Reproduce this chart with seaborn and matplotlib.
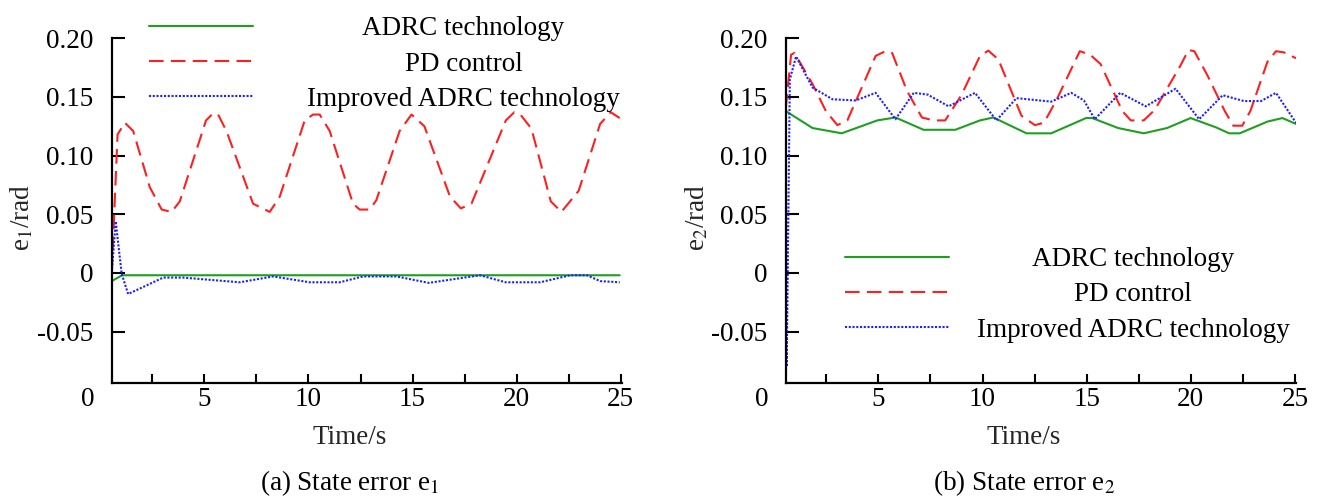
import numpy as np
import pandas as pd
import matplotlib.pyplot as plt
import seaborn as sns
from matplotlib.lines import Line2D

# estilo base
sns.set_style('ticks')
plt.rcParams['font.family'] = ['Liberation Serif', 'DejaVu Serif']
plt.rcParams['mathtext.fontset'] = 'stix'
plt.rcParams['axes.edgecolor'] = 'black'
plt.rcParams['xtick.color'] = 'black'
plt.rcParams['ytick.color'] = 'black'
plt.rcParams['text.color'] = 'black'

metodos = ['ADRC technology', 'PD control', 'Improved ADRC technology']
cores = {'ADRC technology': '#1f9f1f', 'PD control': '#ff1f1f',
         'Improved ADRC technology': '#1f1fff'}
tracos = {'ADRC technology': '', 'PD control': (7, 3.5),
          'Improved ADRC technology': (1, 0.8)}

# (a) erro de estado e1
t_adrc_e1 = [0.55, 1.05, 24.95]
v_adrc_e1 = [-0.007, -0.002, -0.002]
t_pd_e1 = [0.55, 0.83, 1.18, 1.58, 2.38, 2.95, 3.43, 3.82, 5.08, 5.42, 5.66, 6.06, 7.34,
           8.14, 8.62, 9.82, 10.22, 10.54, 11.02, 12.14, 12.46, 12.94, 13.26, 14.38, 14.95,
           15.57, 16.8, 17.32, 17.83, 19.48, 19.89, 20.18, 20.71, 21.64, 22.15, 22.98,
           24.01, 24.52, 24.95]
v_pd_e1 = [0.0, 0.118, 0.128, 0.121, 0.073, 0.054, 0.052, 0.061, 0.130, 0.136, 0.135, 0.121,
           0.059, 0.052, 0.065, 0.130, 0.135, 0.135, 0.121, 0.059, 0.054, 0.054, 0.062, 0.121,
           0.135, 0.125, 0.065, 0.055, 0.059, 0.130, 0.137, 0.135, 0.123, 0.061, 0.052, 0.070,
           0.127, 0.137, 0.132]
t_imp_e1 = [0.55, 0.74, 1.03, 1.34, 3.02, 3.98, 6.7, 8.3, 10.06, 11.5, 12.62, 14.22, 15.78,
            18.24, 19.47, 21.13, 22.57, 23.38, 24.01, 24.95]
v_imp_e1 = [0.0, 0.044, -0.001, -0.018, -0.004, -0.004, -0.008, -0.003, -0.008, -0.008,
            -0.003, -0.003, -0.0085, -0.002, -0.008, -0.008, -0.002, -0.002, -0.007, -0.008]

# (b) erro de estado e2
t_adrc_e2 = [0.55, 1.84, 3.24, 4.95, 5.82, 7.17, 8.69, 9.88, 10.52, 12.11, 13.3, 14.97,
             15.27, 16.51, 17.74, 18.86, 19.99, 21.22, 21.84, 22.35, 23.68, 24.4, 25.05]
v_adrc_e2 = [0.138, 0.1235, 0.119, 0.130, 0.1325, 0.122, 0.122, 0.130, 0.1325, 0.119, 0.119,
             0.132, 0.132, 0.1235, 0.119, 0.1235, 0.132, 0.124, 0.119, 0.119, 0.129, 0.132,
             0.127]
t_pd_e2 = [0.55, 0.81, 0.97, 1.84, 2.48, 3.03, 3.51, 4.87, 5.34, 5.66, 6.38, 7.09, 7.65, 8.21,
           9.0, 9.88, 10.28, 10.76, 11.87, 12.51, 12.95, 13.54, 14.67, 15.17, 15.67, 16.71,
           17.12, 17.74, 18.27, 19.48, 19.89, 20.17, 20.81, 21.63, 22.04, 22.47, 22.86,
           23.68, 24.09, 24.47, 25.05]
v_pd_e2 = [0.14, 0.186, 0.1875, 0.161, 0.138, 0.126, 0.130, 0.185, 0.189, 0.1875, 0.155,
           0.1325, 0.130, 0.130, 0.152, 0.185, 0.1895, 0.182, 0.134, 0.126, 0.128, 0.147,
           0.189, 0.186, 0.178, 0.138, 0.130, 0.130, 0.139, 0.176, 0.190, 0.189, 0.168,
           0.138, 0.1255, 0.1255, 0.138, 0.180, 0.189, 0.188, 0.183]
t_imp_e2 = [0.55, 0.6, 0.75, 1.05, 1.84, 2.8, 3.91, 4.87, 5.82, 6.7, 7.37, 8.37, 9.64, 10.67,
            11.63, 13.3, 14.26, 14.87, 15.39, 16.61, 17.84, 19.27, 20.4, 21.53, 22.55, 23.37,
            24.09, 25.05]
v_imp_e2 = [0.14, -0.08, 0.165, 0.1845, 0.158, 0.148, 0.147, 0.1535, 0.131, 0.1535, 0.152,
            0.142, 0.1535, 0.130, 0.149, 0.146, 0.1535, 0.147, 0.131, 0.1535, 0.142, 0.157,
            0.131, 0.1515, 0.1465, 0.1465, 0.1535, 0.128]

yticks = [-0.05, 0, 0.05, 0.10, 0.15, 0.20]
yticklabels = ['-0.05', '0', '0.05', '0.10', '0.15', '0.20']
xticks = [2.5, 5, 7.5, 10, 12.5, 15, 17.5, 20, 22.5, 25]
xticklabels = ['', '5', '', '10', '', '15', '', '20', '', '25']


def monta_df(series):
    partes = []
    for nome, t, v in series:
        partes.append(pd.DataFrame({'time': t, 'error': v, 'method': nome}))
    return pd.concat(partes, ignore_index=True)


df_e1 = monta_df([(metodos[0], t_adrc_e1, v_adrc_e1), (metodos[1], t_pd_e1, v_pd_e1),
                  (metodos[2], t_imp_e1, v_imp_e1)])
df_e2 = monta_df([(metodos[0], t_adrc_e2, v_adrc_e2), (metodos[1], t_pd_e2, v_pd_e2),
                  (metodos[2], t_imp_e2, v_imp_e2)])

fig = plt.figure(figsize=(13.38, 5), dpi=100)
ax1 = fig.add_axes([0.0835, 0.2346, 0.3812, 0.6888])
ax2 = fig.add_axes([0.5872, 0.2346, 0.3814, 0.6888])

FS = 19.5
LW = 1.5
paineis = [
    (ax1, df_e1, r'e$_1$/rad', '(a) State error e$_1$', -0.1765, 0.073, 0.925, 0.3465),
    (ax2, df_e2, r'e$_2$/rad', '(b) State error e$_2$', -0.1744, 0.116, 0.255, 0.8468),
]

legendas = []
for ax, df, ylab, legenda_fig, ylab_x, leg_x, leg_y, txt_x in paineis:
    sns.lineplot(data=df, x='time', y='error', hue='method', style='method',
                 hue_order=metodos, style_order=metodos, palette=cores, dashes=tracos,
                 estimator=None, sort=False, lw=LW, legend=False, ax=ax)
    ax.set_xlim(0.55, 25.05)
    ax.set_ylim(-0.0936, 0.20)
    ax.set_xticks(xticks, xticklabels)
    ax.set_yticks(yticks, yticklabels)
    ax.tick_params(axis='both', direction='in', width=1.5, labelsize=FS)
    ax.tick_params(axis='x', length=6.7, pad=3)
    ax.tick_params(axis='y', length=9.5, pad=13)
    sns.despine(ax=ax)
    for s in ['left', 'bottom']:
        ax.spines[s].set_linewidth(1.6)
    # rotulo "0" fica fora do eixo
    ax.annotate('0', xy=(-0.6, 0), xycoords=('data', 'axes fraction'), xytext=(0, -3),
                textcoords='offset points', ha='center', va='top', fontsize=FS,
                annotation_clip=False)
    ax.set_xlabel('Time/s', fontsize=FS)
    ax.xaxis.label.set_va('center')
    ax.xaxis.set_label_coords(0.467, -0.158)
    ax.set_ylabel(ylab, fontsize=FS)
    ax.yaxis.label.set_va('center')
    ax.yaxis.set_label_coords(ylab_x, 0.481)
    fig.text(ax.get_position().x0 + 0.467 * ax.get_position().width, 0.034, legenda_fig,
             ha='center', va='center', fontsize=FS)

    handles = [Line2D([], [], color=cores[m], lw=LW) for m in metodos]
    handles[1].set_dashes(tracos[metodos[1]])
    handles[2].set_dashes(tracos[metodos[2]])
    leg = ax.legend(handles, metodos, loc='center left', bbox_to_anchor=(leg_x, leg_y),
                    frameon=False, fontsize=FS, handlelength=3.85, handletextpad=1.0,
                    labelspacing=0.38, borderpad=0, borderaxespad=0)
    legendas.append((leg, txt_x))

# centraliza o texto das legendas
fig.canvas.draw()
inv = fig.transFigure.inverted()
for leg, txt_x in legendas:
    for t in leg.get_texts():
        bb = t.get_window_extent()
        y = inv.transform(((bb.x0 + bb.x1) / 2, (bb.y0 + bb.y1) / 2))[1]
        fig.text(txt_x, y, t.get_text(), ha='center', va='center', fontsize=FS)
        t.set_visible(False)

fig.savefig('out.png', dpi=100)
